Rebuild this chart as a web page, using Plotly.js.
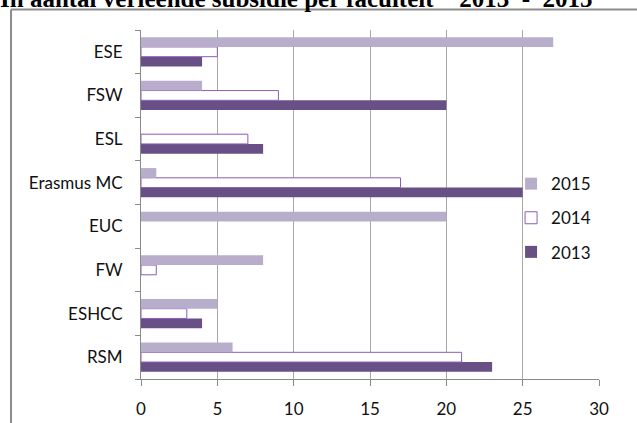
<!DOCTYPE html>
<html>
<head>
<meta charset="utf-8">
<script src="https://cdn.plot.ly/plotly-3.0.1.min.js"></script>
<style>html,body{margin:0;padding:0;background:#fff;}#chart{width:637px;height:423px;}</style>
</head>
<body>
<div id="chart"></div>
<script>
// Categories listed bottom-to-top (Plotly order); null = no bar in the reference
const categories = ["RSM", "ESHCC", "FW", "EUC", "Erasmus MC", "ESL", "FSW", "ESE"];
const values2013 = [23, 4, null, null, 25, 8, 20, 4];
const values2014 = [21, 3, 1, null, 17, 7, 9, 5];
const values2015 = [6, 5, 8, 20, 1, null, 4, 27];
const xTickValues = [0, 5, 10, 15, 20, 25, 30];
const titleText = "In aantal verleende subsidie per faculteit'\u00a0\u00a0\u00a02013\u00a0\u00a0-\u00a0\u00a02015";

const traces = [
  {type: "bar", orientation: "h", name: "2013", y: categories, x: values2013,
   marker: {color: "#685086", line: {width: 0}}, legendgroup: "a", legendrank: 3},
  {type: "bar", orientation: "h", name: "2014", y: categories, x: values2014,
   marker: {color: "#ffffff", line: {color: "#8a5cb8", width: 1}}, legendgroup: "b", legendrank: 2},
  {type: "bar", orientation: "h", name: "2015", y: categories, x: values2015,
   marker: {color: "#b8aecb", line: {width: 0}}, legendgroup: "c", legendrank: 1}
];

const font = {family: "Lato, 'Open Sans', sans-serif", size: 17, color: "#111"};

const layout = {
  width: 637, height: 423,
  margin: {l: 141, r: 38, t: 30, b: 44, pad: 0},
  paper_bgcolor: "#fff", plot_bgcolor: "#fff",
  font: font,
  barmode: "group", bargap: 0.33, bargroupgap: 0,
  title: {
    text: titleText, x: 0, xanchor: "left", xref: "container",
    y: 0.984, yanchor: "bottom", yref: "container",
    font: {family: "'Liberation Serif', 'Times New Roman', serif", size: 25, color: "#000", weight: "bold"},
    pad: {t: 0, b: 0, l: 0, r: 0}
  },
  xaxis: {
    range: [0, 30], tickvals: xTickValues, ticktext: xTickValues.map(String),
    showgrid: true, gridcolor: "#a8a8a8", gridwidth: 1,
    showline: true, linecolor: "#8a8a8a", linewidth: 1,
    ticks: "outside", ticklen: 6, tickcolor: "#8a8a8a",
    zeroline: false, fixedrange: true, ticklabelstandoff: 9,
    tickfont: font
  },
  yaxis: {
    type: "category", categoryorder: "array", categoryarray: categories,
    showline: true, linecolor: "#8a8a8a", linewidth: 1,
    ticks: "outside", ticklen: 5, tickcolor: "#8a8a8a", tickson: "boundaries",
    showgrid: false, zeroline: false, fixedrange: true, ticklabelstandoff: 14,
    tickfont: font
  },
  legend: {
    x: 0.808, xanchor: "left", y: 0.461, yanchor: "middle",
    traceorder: "grouped", tracegroupgap: 9,
    bgcolor: "rgba(0,0,0,0)", borderwidth: 0,
    font: font
  },
  showlegend: true,
  shapes: [
    {type: "line", xref: "paper", yref: "paper", x0: -0.2838, x1: 1.2, y0: 1.0587, y1: 1.0587,
     line: {color: "#8c8c8c", width: 2}, layer: "above"},
    {type: "line", xref: "paper", yref: "paper", x0: -0.2838, x1: -0.2838, y0: 1.0587, y1: -0.2,
     line: {color: "#8c8c8c", width: 2}, layer: "above"}
  ]
};

Plotly.newPlot("chart", traces, layout, {displayModeBar: false, staticPlot: true});
</script>
</body>
</html>
